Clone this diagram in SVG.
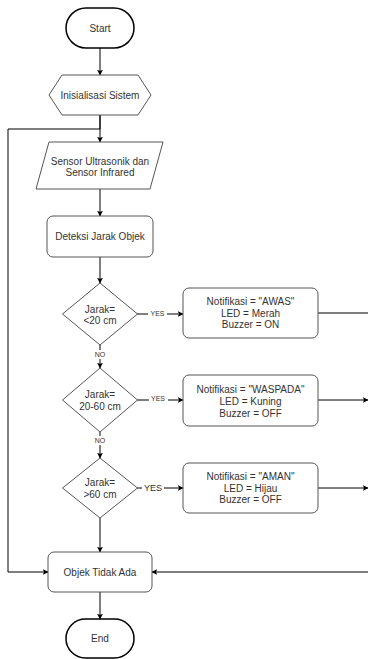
<svg xmlns="http://www.w3.org/2000/svg" width="368" height="659" viewBox="0 0 368 659">
<defs>
<marker id="arr" viewBox="0 0 10 10" refX="9" refY="5" markerWidth="6" markerHeight="6" markerUnits="userSpaceOnUse" orient="auto">
<path d="M0,0 L10,5 L0,10 L2.5,5 Z" fill="#000"/>
</marker>
<style>
.t{font-family:"Liberation Sans",Arial,sans-serif;font-size:10px;fill:#333;text-anchor:middle;dominant-baseline:central}
.s{font-family:"Liberation Sans",Arial,sans-serif;font-size:7px;fill:#333;text-anchor:middle;dominant-baseline:central}
.term{fill:#fff;stroke:#000;stroke-width:1.5}
.box{fill:#fff;stroke:#555;stroke-width:1}
.c{fill:none;stroke:#000;stroke-width:1}
</style>
</defs>
<rect width="368" height="659" fill="#fff"/>
<g id="connectors">
<path class="c" d="M100,48 V75" marker-end="url(#arr)"/>
<path class="c" d="M100,115 V142" marker-end="url(#arr)"/>
<path class="c" d="M100,115 V129 H8 V572 H48" marker-end="url(#arr)"/>
<path class="c" d="M100,189 V216" marker-end="url(#arr)"/>
<path class="c" d="M100,257 V283" marker-end="url(#arr)"/>
<path class="c" d="M137,314 H183" marker-end="url(#arr)"/>
<path class="c" d="M100,345 V368" marker-end="url(#arr)"/>
<path class="c" d="M137,400 H183" marker-end="url(#arr)"/>
<path class="c" d="M100,432 V458" marker-end="url(#arr)"/>
<path class="c" d="M137,488 H183" marker-end="url(#arr)"/>
<path class="c" d="M100,518 V552" marker-end="url(#arr)"/>
<path class="c" d="M100,592 V619" marker-end="url(#arr)"/>
<path class="c" d="M318,313 H378 V572 H152" marker-end="url(#arr)"/>
<path class="c" d="M318,400 H368" marker-end="url(#arr)"/>
<path class="c" d="M318,488 H368" marker-end="url(#arr)"/>
<rect x="148" y="309" width="19" height="9" fill="#fff"/>
<text class="s" x="157.5" y="313.5">YES</text>
<rect x="149" y="394" width="19" height="9" fill="#fff"/>
<text class="s" x="158" y="398.5">YES</text>
<rect x="142" y="483" width="22" height="10" fill="#fff"/>
<text class="t" x="153" y="488" style="font-size:9px">YES</text>
<rect x="94" y="350" width="12" height="9" fill="#fff"/>
<text class="s" x="100" y="354">NO</text>
<rect x="94" y="436" width="12" height="9" fill="#fff"/>
<text class="s" x="100" y="440.5">NO</text>
</g>
<g id="start">
<rect class="term" x="66" y="8" width="68" height="40" rx="20"/>
<text class="t" x="100" y="28">Start</text>
</g>
<g id="init">
<polygon class="box" points="49,95 62,75 138,75 151,95 138,115 62,115"/>
<text class="t" x="100" y="95.5">Inisialisasi Sistem</text>
</g>
<g id="sensor">
<polygon class="box" points="49,142 163,142 150,189 36,189"/>
<text class="t" x="100" y="161">Sensor Ultrasonik dan</text>
<text class="t" x="100" y="172.5">Sensor Infrared</text>
</g>
<g id="deteksi">
<rect class="box" x="47" y="216" width="106" height="41" rx="6"/>
<text class="t" x="100" y="236.5">Deteksi Jarak Objek</text>
</g>
<g id="d1">
<polygon class="box" points="100,283 137.5,314 100,345 62.5,314"/>
<text class="t" x="100" y="309">Jarak=</text>
<text class="t" x="100" y="320.5">&lt;20 cm</text>
</g>
<g id="awas">
<rect class="box" x="183" y="288" width="135" height="50" rx="6"/>
<text class="t" x="250.5" y="301.5">Notifikasi = "AWAS"</text>
<text class="t" x="250.5" y="313">LED = Merah</text>
<text class="t" x="250.5" y="324.5">Buzzer = ON</text>
</g>
<g id="d2">
<polygon class="box" points="100,368 137.5,400 100,432 62.5,400"/>
<text class="t" x="100" y="394.5">Jarak=</text>
<text class="t" x="100" y="406">20-60 cm</text>
</g>
<g id="waspada">
<rect class="box" x="183" y="375" width="135" height="51" rx="6"/>
<text class="t" x="250.5" y="389">Notifikasi = "WASPADA"</text>
<text class="t" x="250.5" y="401">LED = Kuning</text>
<text class="t" x="250.5" y="413">Buzzer = OFF</text>
</g>
<g id="d3">
<polygon class="box" points="100,458 137.5,488 100,518 62.5,488"/>
<text class="t" x="100" y="482.5">Jarak=</text>
<text class="t" x="100" y="494">&gt;60 cm</text>
</g>
<g id="aman">
<rect class="box" x="183" y="463" width="135" height="50" rx="6"/>
<text class="t" x="250.5" y="476.5">Notifikasi = "AMAN"</text>
<text class="t" x="250.5" y="488">LED = Hijau</text>
<text class="t" x="250.5" y="499.5">Buzzer = OFF</text>
</g>
<g id="tidakada">
<rect class="box" x="48" y="552" width="104" height="40" rx="6"/>
<text class="t" x="100" y="572">Objek Tidak Ada</text>
</g>
<g id="end">
<rect class="term" x="66" y="619" width="68" height="39" rx="19.5"/>
<text class="t" x="100" y="638.5">End</text>
</g>
</svg>
